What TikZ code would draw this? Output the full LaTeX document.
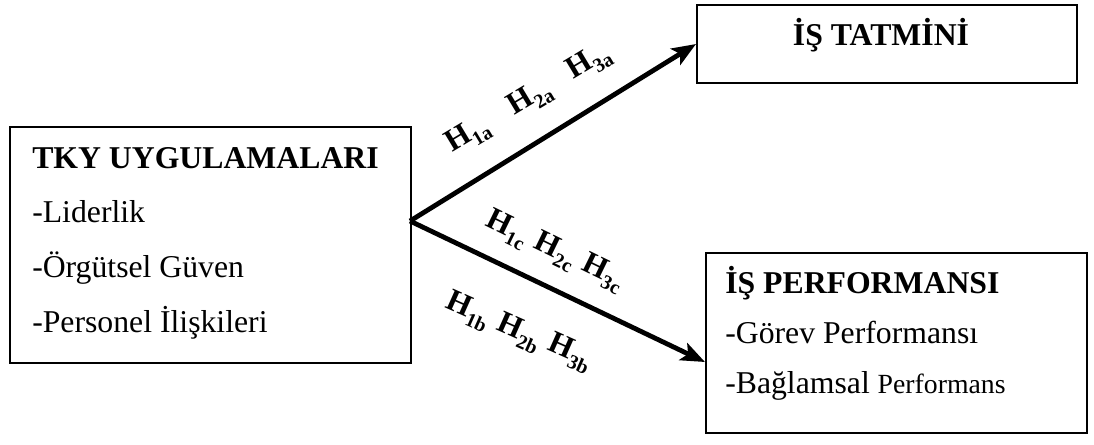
\documentclass[tikz,border=0pt]{standalone}
\usepackage{fontspec}
\setmainfont{Liberation Serif}
\usetikzlibrary{arrows.meta}
\newcommand{\Hsub}[1]{H\raisebox{-0.25em}{\fontsize{15}{15}\selectfont #1}}
\begin{document}
\begin{tikzpicture}[x=0.75pt,y=-0.75pt,
  box/.style={draw, line width=1.5pt, inner sep=0pt, anchor=north west},
  txt/.style={anchor=base west, inner sep=0pt, font=\fontsize{23.8}{28}\selectfont},
  ttl/.style={anchor=base west, inner sep=0pt, font=\fontsize{23.8}{28}\selectfont\bfseries},
  hl/.style={font=\fontsize{23.5}{25}\selectfont\bfseries, inner sep=0pt},
  arr/.style={line width=3.6pt, -{Stealth[length=18pt,width=14pt,inset=4pt]}}]
\useasboundingbox (0,0) rectangle (1094,444);
% boxes
\node[box, minimum width=300.75pt, minimum height=177pt] (tky) at (9,126) {};
\node[box, minimum width=285pt, minimum height=58.5pt] (tat) at (696,4) {};
\node[box, minimum width=285.75pt, minimum height=135pt] (perf) at (705,252) {};
% left box text
\node[ttl] (t1) at (32,168) {TKY UYGULAMALARI};
\node[txt] (t2) at (32,222) {-Liderlik};
\node[txt] (t3) at (32,277) {-Örgütsel Güven};
\node[txt] (t4) at (32,332) {-Personel İlişkileri};
% top right text
\node[ttl, anchor=base] (s1) at (881,45) {İŞ TATMİNİ};
% bottom right text
\node[ttl] (p1) at (725,293) {İŞ PERFORMANSI};
\node[txt] (p2) at (725,343) {-Görev Performansı};
\node[txt] (p3) at (725,393) {-Bağlamsal {\fontsize{20.8}{24}\selectfont Performans}};
% arrows
\coordinate (src) at (410,221);
\coordinate (pin) at (705,362);
\draw[arr] (src) -- (tat.west);
\draw[arr] (src) -- (pin);
% labels
\node[hl, rotate=31] (h1a) at (468,136) {\Hsub{1a}};
\node[hl, rotate=31] (h2a) at (530,99) {\Hsub{2a}};
\node[hl, rotate=31] (h3a) at (589,63) {\Hsub{3a}};
\node[hl, rotate=-26] (h1c) at (507,229) {\Hsub{1c}};
\node[hl, rotate=-26] (h2c) at (555,251) {\Hsub{2c}};
\node[hl, rotate=-26] (h3c) at (603,273) {\Hsub{3c}};
\node[hl, rotate=-24] (h1b) at (468,311) {\Hsub{1b}};
\node[hl, rotate=-24] (h2b) at (519,333) {\Hsub{2b}};
\node[hl, rotate=-24] (h3b) at (570,353) {\Hsub{3b}};
\end{tikzpicture}
\end{document}
